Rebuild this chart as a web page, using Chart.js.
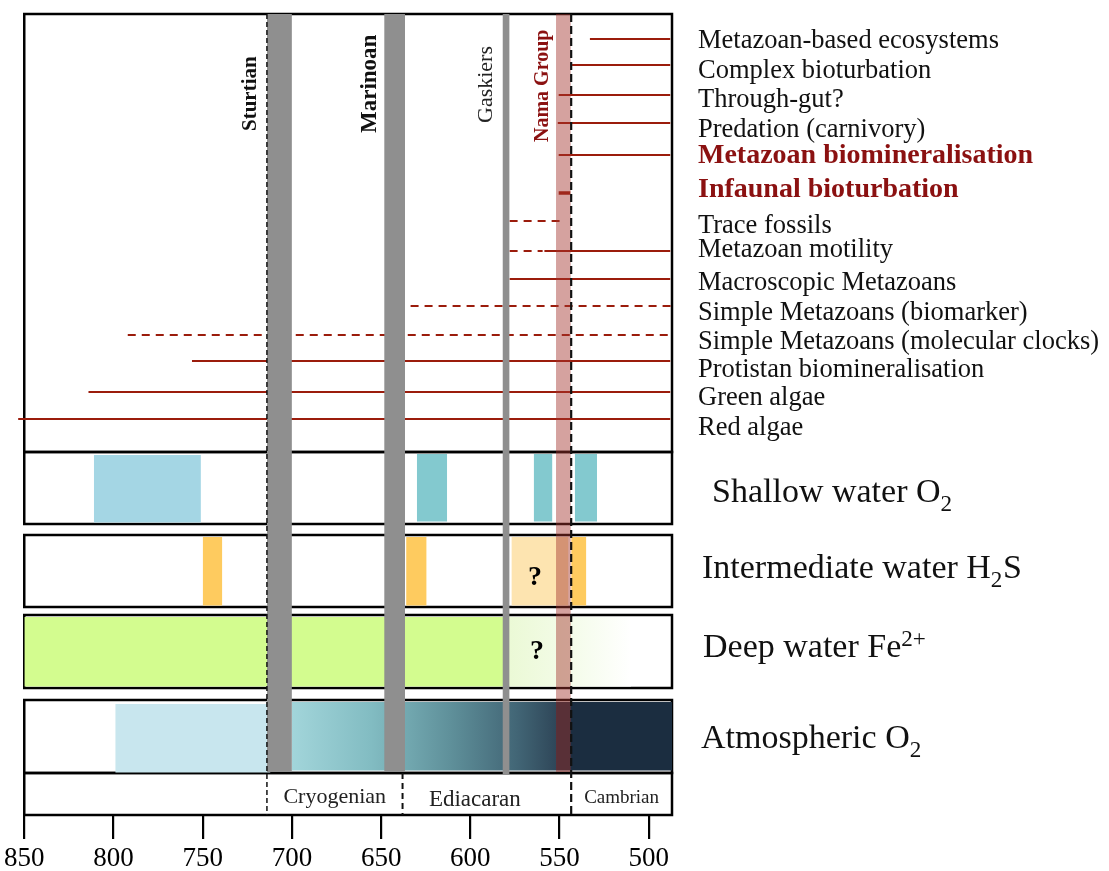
<!DOCTYPE html>
<html>
<head>
<meta charset="utf-8">
<script src="https://cdn.jsdelivr.net/npm/chart.js@4"></script>
<style>
  html, body { margin: 0; background: #fff; }
  canvas { display: block; }
</style>
</head>
<body>
<canvas id="chart" width="1109" height="871"></canvas>
<script>
// ---- data (Ma) ----
const TICKS = [850, 800, 750, 700, 650, 600, 550, 500];

const EVENTS = [
  "Metazoan-based ecosystems",
  "Complex bioturbation",
  "Through-gut?",
  "Predation (carnivory)",
  "Metazoan biomineralisation",
  "Infaunal bioturbation",
  "Trace fossils",
  "Metazoan motility",
  "Macroscopic Metazoans",
  "Simple Metazoans (biomarker)",
  "Simple Metazoans (molecular clocks)",
  "Protistan biomineralisation",
  "Green algae",
  "Red algae"
];
// solid = known range, dashed = inferred range
const EVENT_SOLID = [
  [533, 488], [543, 488], [550.5, 488], [551, 488], [550.5, 488], [550.5, 544],
  null, [558.5, 488], [578, 488], null, null, [756, 488], [814, 488], [853.4, 488]
];
const EVENT_DASHED = [
  null, null, null, null, null, null,
  [578, 550], [578, 559.5], null, [633.5, 487], [792, 487], null, null, null
];
const HIGHLIGHT = ["Metazoan biomineralisation", "Infaunal bioturbation"];

const GLACIATIONS = ["Sturtian", "Marinoan", "Gaskiers"];
const GLACIATION_SPAN = [[714, 700], [648.3, 636.6], [582, 578]];
const NAMA_SPAN = [552, 543.7];

const SHALLOW_O2_LOW = [[811, 751]];
const SHALLOW_O2_HIGH = [[630, 613], [564.5, 554], [541.5, 529]];
const H2S_EUXINIA = [[750, 739], [636, 624.5], [543.5, 535]];
const H2S_UNCERTAIN = [577, 545];
const FE_FERRUGINOUS = [850, 578];
const FE_UNCERTAIN = [578, 510];
const ATM_O2_LOW = [799, 712];
const ATM_O2_RISE = [700, 552];
const ATM_O2_HIGH = [552, 487];

const PERIODS = ["Cryogenian", "Ediacaran", "Cambrian"];
const PERIOD_BOUNDS = [714, 638, 543.5, 487];

// ---- layout (px below the top of the plot frame) ----
const ROW_Y = [25, 51, 81, 109, 141, 179, 207, 237, 265, 292, 321, 347, 378, 405];
const LABEL_BASE = [48, 78, 107, 137, 163, 197, 233, 257, 290, 320, 349, 377, 405, 435];
const PANELS = {
  events: [0, 438], shallow: [438, 510], inter: [521, 593],
  deep: [601, 674], atm: [686, 759], period: [759, 801]
};
const BAR_BOTTOM = 758;

const SERIF = '"Liberation Serif", "Times New Roman", serif';
const RED = "#9b1c0c";
const LABEL_RED = "#8b1111";
const GREY = "#8f8f8f";

const datasets = [];

function seg(x0, x1, y, extra) {
  datasets.push(Object.assign({
    type: "line",
    data: [{ x: x0, y: y }, { x: x1, y: y }],
    borderColor: RED, borderWidth: 2, pointRadius: 0, fill: false, order: 40
  }, extra || {}));
}

function box(x0, x1, y0, y1, color, order) {
  datasets.push({
    type: "line",
    data: [{ x: x0, y: y0 }, { x: x1, y: y0 }],
    borderColor: "rgba(0,0,0,0)", borderWidth: 0, pointRadius: 0,
    backgroundColor: color, fill: { value: y1 }, order: order
  });
}

function hGrad(x0, x1, stops) {
  return (ctx) => {
    const ch = ctx.chart;
    if (!ch.chartArea) return stops[0][1];
    const xs = ch.scales.x;
    const g = ch.ctx.createLinearGradient(xs.getPixelForValue(x0), 0, xs.getPixelForValue(x1), 0);
    stops.forEach(([o, c]) => g.addColorStop(o, c));
    return g;
  };
}

function inner(p) { return [PANELS[p][0] + 2, PANELS[p][1] - 1.5]; }

// panel fills
let [t, b] = inner("shallow");
SHALLOW_O2_LOW.forEach(r => box(r[0], r[1], t + 1, b, "#a4d6e4", 50));
SHALLOW_O2_HIGH.forEach(r => box(r[0], r[1], t, b - 1, "#83c9cf", 50));

[t, b] = inner("inter");
H2S_EUXINIA.forEach(r => box(r[0], r[1], t, b, "#fecb5f", 50));
box(H2S_UNCERTAIN[0], H2S_UNCERTAIN[1], t, b, "#fde4b0", 50);

[t, b] = inner("deep");
box(FE_FERRUGINOUS[0], FE_FERRUGINOUS[1], t, b, "#d3fc8f", 50);
box(FE_UNCERTAIN[0], FE_UNCERTAIN[1], t, b,
  hGrad(FE_UNCERTAIN[0], FE_UNCERTAIN[1], [[0, "#ebf9d6"], [0.5, "#f4fce9"], [1, "#ffffff"]]), 50);

[t, b] = inner("atm");
box(ATM_O2_LOW[0], ATM_O2_LOW[1], t + 2, b + 1, "#c8e6ee", 50);
box(ATM_O2_RISE[0], ATM_O2_RISE[1], t, b - 1,
  hGrad(ATM_O2_RISE[0], ATM_O2_RISE[1],
    [[0, "#a2d5da"], [0.3, "#82bcc2"], [0.6, "#5f909a"], [0.85, "#426676"], [1, "#2f4759"]]), 50);
box(ATM_O2_HIGH[0], ATM_O2_HIGH[1], t, b - 1, "#1b2d40", 50);

// event lines
EVENTS.forEach((name, i) => {
  const y = ROW_Y[i];
  if (EVENT_SOLID[i]) {
    const s = EVENT_SOLID[i];
    const extra = {};
    if (name === "Infaunal bioturbation") extra.borderWidth = 3.5;
    if (s[0] > 850) extra.clip = false;
    seg(s[0], s[1], y, extra);
  }
  if (EVENT_DASHED[i]) {
    const d = EVENT_DASHED[i];
    seg(d[0], d[1], y, { borderDash: [8, 6] });
  }
});

// glaciations and Nama Group
GLACIATION_SPAN.forEach((s, i) => box(s[0], s[1], -1.5, i === 2 ? BAR_BOTTOM + 3 : BAR_BOTTOM, GREY, 30));
box(NAMA_SPAN[0], NAMA_SPAN[1], -1.5, BAR_BOTTOM, "rgba(164,53,45,0.46)", 20);

// period boundaries (dashed black)
function vDash(x, y0, y1, width, dash) {
  datasets.push({
    type: "line", data: [{ x: x, y: y0 }, { x: x, y: y1 }],
    borderColor: "#111", borderWidth: width, borderDash: dash, pointRadius: 0, fill: false, order: 10
  });
}
vDash(PERIOD_BOUNDS[0], 0, PANELS.period[1], 1.5, [5, 3]);
vDash(PERIOD_BOUNDS[1], PANELS.period[0], PANELS.period[1], 2, [6, 4]);
vDash(PERIOD_BOUNDS[2], 0, PANELS.period[1], 2.2, [8, 4]);

// ---- drawing helpers for frames and text ----
function rich(ctx, parts, x, y, size) {
  let cx = x;
  parts.forEach(p => {
    const s = p.sub || p.sup ? size * 0.68 : size;
    ctx.font = s + "px " + SERIF;
    const dy = p.sub ? size * 0.26 : p.sup ? -size * 0.33 : 0;
    ctx.fillText(p.t, cx, y + dy);
    cx += ctx.measureText(p.t).width + (p.sub || p.sup ? 0.5 : 0);
  });
}

const framePlugin = {
  id: "frames",
  beforeDatasetsDraw(chart) {
    const { ctx, chartArea: a, scales: { y } } = chart;
    ctx.save();
    ctx.strokeStyle = "#000";
    ctx.lineWidth = 2.5;
    Object.values(PANELS).forEach(([p0, p1]) => {
      const y0 = y.getPixelForValue(p0), y1 = y.getPixelForValue(p1);
      ctx.strokeRect(a.left, y0, a.right - a.left, y1 - y0);
    });
    ctx.restore();
  },
  afterDatasetsDraw(chart) {
    const { ctx, scales: { x, y } } = chart;
    ctx.save();
    ctx.textBaseline = "alphabetic";
    ctx.textAlign = "left";

    // event labels
    EVENTS.forEach((name, i) => {
      const hi = HIGHLIGHT.includes(name);
      ctx.fillStyle = hi ? LABEL_RED : "#111";
      ctx.font = (hi ? "bold 28px " : "26.5px ") + SERIF;
      ctx.fillText(name, 698, LABEL_BASE[i]);
    });

    // proxy panel labels
    ctx.fillStyle = "#111";
    rich(ctx, [{ t: "Shallow water O" }, { t: "2", sub: true }], 712, 502, 34);
    rich(ctx, [{ t: "Intermediate water H" }, { t: "2", sub: true }, { t: "S" }], 702, 578, 34);
    rich(ctx, [{ t: "Deep water Fe" }, { t: "2+", sup: true }], 703, 657, 34);
    rich(ctx, [{ t: "Atmospheric O" }, { t: "2", sub: true }], 701, 748, 34);

    // rotated event labels
    const vlabels = [
      { t: "Sturtian", x: x.getPixelForValue(GLACIATION_SPAN[0][0]) - 16, y: 131, font: "bold 21px ", c: "#111" },
      { t: "Marinoan", x: x.getPixelForValue(GLACIATION_SPAN[1][0]) - 14, y: 133, font: "bold 23px ", c: "#111" },
      { t: "Gaskiers", x: x.getPixelForValue(GLACIATION_SPAN[2][0]) - 16, y: 123, font: "22px ", c: "#222" },
      { t: "Nama Group", x: x.getPixelForValue(NAMA_SPAN[0]) - 13, y: 142, font: "bold 20px ", c: LABEL_RED }
    ];
    vlabels.forEach(v => {
      ctx.save();
      ctx.translate(v.x, v.y);
      ctx.rotate(-Math.PI / 2);
      ctx.font = v.font + SERIF;
      ctx.fillStyle = v.c;
      ctx.textBaseline = "middle";
      ctx.fillText(v.t, 0, 0);
      ctx.restore();
    });

    // question marks
    ctx.fillStyle = "#000";
    ctx.font = "bold 28px " + SERIF;
    ctx.textAlign = "center";
    ctx.textBaseline = "middle";
    const qx = x.getPixelForValue((H2S_UNCERTAIN[0] + H2S_UNCERTAIN[1]) / 2);
    ctx.fillText("?", qx - 5, y.getPixelForValue((PANELS.inter[0] + PANELS.inter[1]) / 2) + 7);
    ctx.fillText("?", qx - 3, y.getPixelForValue((PANELS.deep[0] + PANELS.deep[1]) / 2));

    // period names
    const pSize = [22, 23, 19];
    const pShift = [0, -12, 0];
    const pBase = [803, 806, 803];
    ctx.textBaseline = "alphabetic";
    PERIODS.forEach((p, i) => {
      const cx = (x.getPixelForValue(PERIOD_BOUNDS[i]) + x.getPixelForValue(PERIOD_BOUNDS[i + 1])) / 2;
      ctx.font = pSize[i] + "px " + SERIF;
      ctx.fillStyle = "#222";
      ctx.fillText(p, cx + pShift[i], pBase[i]);
    });
    ctx.restore();
  }
};

new Chart(document.getElementById("chart"), {
  type: "line",
  data: { datasets: datasets },
  options: {
    responsive: false,
    animation: false,
    events: [],
    layout: { padding: { left: 24, right: 437, top: 14, bottom: 0 } },
    plugins: { legend: { display: false }, tooltip: { enabled: false } },
    scales: {
      x: {
        type: "linear", min: 487, max: 850, reverse: true,
        afterBuildTicks: s => { s.ticks = TICKS.map(v => ({ value: v })); },
        afterFit: s => { s.height = 56; },
        grid: { drawOnChartArea: false, drawTicks: true, tickLength: 24, color: "#000", lineWidth: 2.2 },
        border: { display: false },
        ticks: { color: "#000", font: { family: SERIF, size: 27 }, padding: 4, maxRotation: 0, autoSkip: false }
      },
      y: { type: "linear", min: 0, max: 801, reverse: true, display: false }
    }
  },
  plugins: [framePlugin]
});
</script>
</body>
</html>
